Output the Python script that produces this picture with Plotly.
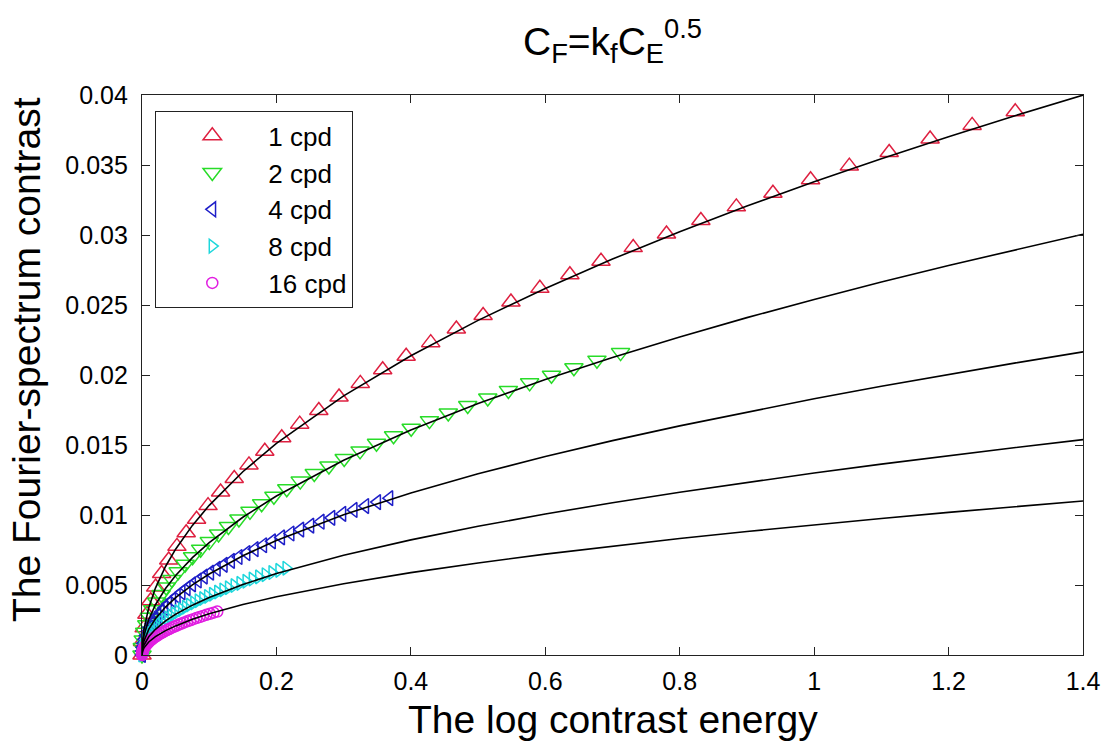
import plotly.graph_objects as go

# ---------------- data ----------------
x_tick_vals = [0, 0.2, 0.4, 0.6, 0.8, 1.0, 1.2, 1.4]
x_tick_text = ["0", "0.2", "0.4", "0.6", "0.8", "1", "1.2", "1.4"]
y_tick_vals = [0, 0.005, 0.01, 0.015, 0.02, 0.025, 0.03, 0.035, 0.04]
y_tick_text = ["0", "0.005", "0.01", "0.015", "0.02", "0.025", "0.03", "0.035", "0.04"]

series_names = ["1 cpd", "2 cpd", "4 cpd", "8 cpd", "16 cpd"]

x_1cpd = [0, 0.000812, 0.003248, 0.007308, 0.012992, 0.0203, 0.029232, 0.039788, 0.051968,
          0.065772, 0.0812, 0.098252, 0.116928, 0.137228, 0.159152, 0.1827, 0.207872, 0.234668,
          0.263088, 0.293132, 0.3248, 0.358092, 0.393008, 0.429548, 0.467712, 0.5075, 0.548912,
          0.591948, 0.636608, 0.682892, 0.7308, 0.780332, 0.831488, 0.884268, 0.938672, 0.9947,
          1.052352, 1.111628, 1.172528, 1.235052, 1.2992]
y_1cpd = [0, 0.00097, 0.00194, 0.00291, 0.00388, 0.00485, 0.00582, 0.00679, 0.00776, 0.00873,
          0.0097, 0.01067, 0.01164, 0.01261, 0.01358, 0.01455, 0.01552, 0.01649, 0.01746, 0.01843,
          0.0194, 0.02037, 0.02134, 0.02231, 0.02328, 0.02425, 0.02522, 0.02619, 0.02716, 0.02813,
          0.0291, 0.03007, 0.03104, 0.03201, 0.03298, 0.03395, 0.03492, 0.03589, 0.03686, 0.03783,
          0.0388]

x_2cpd = [0, 0.000445, 0.00178, 0.004005, 0.00712, 0.011125, 0.01602, 0.021805, 0.02848, 0.036045,
          0.0445, 0.053845, 0.06408, 0.075205, 0.08722, 0.100125, 0.11392, 0.128605, 0.14418,
          0.160645, 0.178, 0.196245, 0.21538, 0.235405, 0.25632, 0.278125, 0.30082, 0.324405,
          0.34888, 0.374245, 0.4005, 0.427645, 0.45568, 0.484605, 0.51442, 0.545125, 0.57672,
          0.609205, 0.64258, 0.676845, 0.712]
y_2cpd = [0, 0.00054, 0.00108, 0.00162, 0.00216, 0.0027, 0.00324, 0.00378, 0.00432, 0.00486,
          0.0054, 0.00594, 0.00648, 0.00702, 0.00756, 0.0081, 0.00864, 0.00918, 0.00972, 0.01026,
          0.0108, 0.01134, 0.01188, 0.01242, 0.01296, 0.0135, 0.01404, 0.01458, 0.01512, 0.01566,
          0.0162, 0.01674, 0.01728, 0.01782, 0.01836, 0.0189, 0.01944, 0.01998, 0.02052, 0.02106,
          0.0216]

x_4cpd = [0, 0.00023, 0.00092, 0.00207, 0.00368, 0.00575, 0.00828, 0.01127, 0.01472, 0.01863,
          0.023, 0.02783, 0.03312, 0.03887, 0.04508, 0.05175, 0.05888, 0.06647, 0.07452, 0.08303,
          0.092, 0.10143, 0.11132, 0.12167, 0.13248, 0.14375, 0.15548, 0.16767, 0.18032, 0.19343,
          0.207, 0.22103, 0.23552, 0.25047, 0.26588, 0.28175, 0.29808, 0.31487, 0.33212, 0.34983,
          0.368]
y_4cpd = [0, 0.00028, 0.00056, 0.00084, 0.00112, 0.0014, 0.00168, 0.00196, 0.00224, 0.00252,
          0.0028, 0.00308, 0.00336, 0.00364, 0.00392, 0.0042, 0.00448, 0.00476, 0.00504, 0.00532,
          0.0056, 0.00588, 0.00616, 0.00644, 0.00672, 0.007, 0.00728, 0.00756, 0.00784, 0.00812,
          0.0084, 0.00868, 0.00896, 0.00924, 0.00952, 0.0098, 0.01008, 0.01036, 0.01064, 0.01092,
          0.0112]

x_8cpd = [0, 0.000134, 0.000536, 0.001206, 0.002144, 0.00335, 0.004824, 0.006566, 0.008576,
          0.010854, 0.0134, 0.016214, 0.019296, 0.022646, 0.026264, 0.03015, 0.034304, 0.038726,
          0.043416, 0.048374, 0.0536, 0.059094, 0.064856, 0.070886, 0.077184, 0.08375, 0.090584,
          0.097686, 0.105056, 0.112694, 0.1206, 0.128774, 0.137216, 0.145926, 0.154904, 0.16415,
          0.173664, 0.183446, 0.193496, 0.203814, 0.2144]
y_8cpd = [0, 0.000155, 0.00031, 0.000465, 0.00062, 0.000775, 0.00093, 0.001085, 0.00124, 0.001395,
          0.00155, 0.001705, 0.00186, 0.002015, 0.00217, 0.002325, 0.00248, 0.002635, 0.00279,
          0.002945, 0.0031, 0.003255, 0.00341, 0.003565, 0.00372, 0.003875, 0.00403, 0.004185,
          0.00434, 0.004495, 0.00465, 0.004805, 0.00496, 0.005115, 0.00527, 0.005425, 0.00558,
          0.005735, 0.00589, 0.006045, 0.0062]

x_16cpd = [0, 0.00007, 0.00028, 0.00063, 0.00112, 0.00175, 0.00252, 0.00343, 0.00448, 0.00567,
           0.007, 0.00847, 0.01008, 0.01183, 0.01372, 0.01575, 0.01792, 0.02023, 0.02268, 0.02527,
           0.028, 0.03087, 0.03388, 0.03703, 0.04032, 0.04375, 0.04732, 0.05103, 0.05488, 0.05887,
           0.063, 0.06727, 0.07168, 0.07623, 0.08092, 0.08575, 0.09072, 0.09583, 0.10108, 0.10647,
           0.112]
y_16cpd = [0, 0.0000775, 0.000155, 0.0002325, 0.00031, 0.0003875, 0.000465, 0.0005425, 0.00062,
           0.0006975, 0.000775, 0.0008525, 0.00093, 0.0010075, 0.001085, 0.0011625, 0.00124,
           0.0013175, 0.001395, 0.0014725, 0.00155, 0.0016275, 0.001705, 0.0017825, 0.00186,
           0.0019375, 0.002015, 0.0020925, 0.00217, 0.0022475, 0.002325, 0.0024025, 0.00248,
           0.0025575, 0.002635, 0.0027125, 0.00279, 0.0028675, 0.002945, 0.0030225, 0.0031]

# fitted curves (black lines)
fit_x = [0, 0.001, 0.003, 0.006, 0.01, 0.02, 0.035, 0.05, 0.075, 0.1, 0.15, 0.2, 0.3, 0.4, 0.5,
         0.6, 0.7, 0.8, 0.9, 1.0, 1.1, 1.2, 1.3, 1.4]
fit_1cpd = [0, 0.001069, 0.001851, 0.002618, 0.00338, 0.00478, 0.006323, 0.007558, 0.009257,
            0.010689, 0.013091, 0.015116, 0.018513, 0.021377, 0.0239, 0.026181, 0.028279,
            0.030232, 0.032065, 0.0338, 0.03545, 0.037026, 0.038538, 0.039993]
fit_2cpd = [0, 0.000803, 0.001391, 0.001967, 0.00254, 0.003592, 0.004752, 0.00568, 0.006956,
            0.008032, 0.009837, 0.011359, 0.013912, 0.016064, 0.01796, 0.019675, 0.021251,
            0.022718, 0.024097, 0.0254, 0.02664, 0.027824, 0.02896, 0.030054]
fit_4cpd = [0, 0.000579, 0.001002, 0.001418, 0.00183, 0.002588, 0.003424, 0.004092, 0.005012,
            0.005787, 0.007088, 0.008184, 0.010023, 0.011574, 0.01294, 0.014175, 0.015311,
            0.016368, 0.017361, 0.0183, 0.019193, 0.020047, 0.020865, 0.021653]
fit_8cpd = [0, 0.000411, 0.000712, 0.001007, 0.0013, 0.001838, 0.002432, 0.002907, 0.00356,
            0.004111, 0.005035, 0.005814, 0.00712, 0.008222, 0.009192, 0.01007, 0.010877,
            0.011628, 0.012333, 0.013, 0.013635, 0.014241, 0.014822, 0.015382]
fit_16cpd = [0, 0.000294, 0.000509, 0.00072, 0.00093, 0.001315, 0.00174, 0.00208, 0.002547,
             0.002941, 0.003602, 0.004159, 0.005094, 0.005882, 0.006576, 0.007204, 0.007781,
             0.008318, 0.008823, 0.0093, 0.009754, 0.010188, 0.010604, 0.011004]

# ---------------- styling ----------------
FONT = "Liberation Sans, Arial, Helvetica, sans-serif"
data_x = [x_1cpd, x_2cpd, x_4cpd, x_8cpd, x_16cpd]
data_y = [y_1cpd, y_2cpd, y_4cpd, y_8cpd, y_16cpd]
fits = [fit_1cpd, fit_2cpd, fit_4cpd, fit_8cpd, fit_16cpd]
symbols = ["triangle-up-open", "triangle-down-open", "triangle-left-open",
           "triangle-right-open", "circle-open"]
colors = ["rgb(222,32,64)", "rgb(40,220,40)", "rgb(30,30,200)", "rgb(30,215,220)", "rgb(225,30,225)"]
sizes = [16, 16, 13, 12, 11]

fig = go.Figure()
for name, xs, ys, sym, col, sz in zip(series_names, data_x, data_y, symbols, colors, sizes):
    fig.add_trace(go.Scatter(
        x=xs, y=ys, mode="markers", name=name, cliponaxis=False,
        marker=dict(symbol=sym, size=sz, color=col, line=dict(color=col, width=1.5)),
    ))
for fy in fits:
    fig.add_trace(go.Scatter(
        x=fit_x, y=fy, mode="lines", showlegend=False, hoverinfo="skip",
        line=dict(color="black", width=1.6),
    ))

axis_common = dict(
    showline=True, linecolor="#222", linewidth=1.3, mirror="ticks",
    ticks="inside", ticklen=8, tickwidth=1.2, tickcolor="#222",
    showgrid=False, zeroline=False,
    tickfont=dict(family=FONT, size=25, color="black"),
)

fig.update_layout(
    width=1113, height=747,
    margin=dict(l=142, r=30, t=95, b=92),
    paper_bgcolor="white", plot_bgcolor="white",
    font=dict(family=FONT, color="black"),
    title=dict(
        text="C<sub>F</sub>=k<sub>f</sub>C<sub>E</sub><sup>0.5</sup>",
        x=0.5, xref="paper", xanchor="center",
        y=0.945, yref="container", yanchor="middle",
        font=dict(family=FONT, size=39, color="black"),
    ),
    xaxis=dict(range=[0, 1.4], tickvals=x_tick_vals, ticktext=x_tick_text,
               ticklabelstandoff=4, **axis_common),
    yaxis=dict(range=[0, 0.04], tickvals=y_tick_vals, ticktext=y_tick_text,
               ticklabelstandoff=8, **axis_common),
    legend=dict(
        x=0.0138, y=0.9714, xanchor="left", yanchor="top",
        bgcolor="white", bordercolor="#222", borderwidth=1.3,
        font=dict(family=FONT, size=26, color="black"),
        itemwidth=102,
    ),
    annotations=[
        dict(text="The log contrast energy", xref="paper", yref="paper",
             x=0.5, y=-0.1143, xanchor="center", yanchor="middle", showarrow=False,
             font=dict(family=FONT, size=39, color="black")),
        dict(text="The Fourier-spectrum contrast", xref="paper", yref="paper",
             x=-0.1222, y=0.5268, xanchor="center", yanchor="middle", showarrow=False,
             textangle=-90, font=dict(family=FONT, size=39, color="black")),
    ],
)

fig.write_html("out.html")
